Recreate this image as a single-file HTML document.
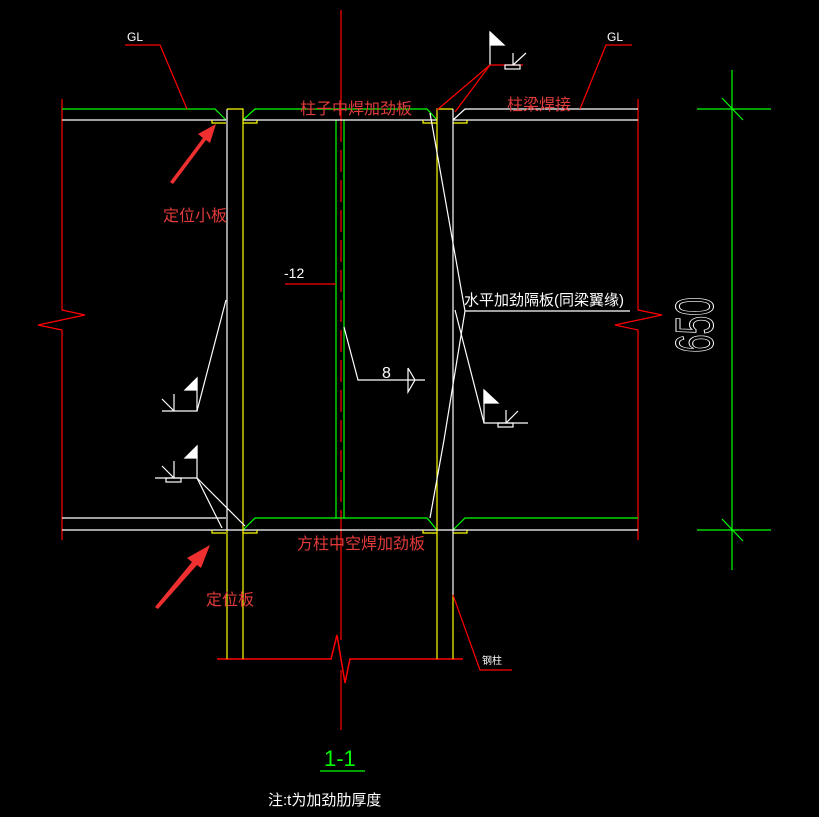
<!DOCTYPE html>
<html><head><meta charset="utf-8"><style>
html,body{margin:0;padding:0;background:#000;}
svg{display:block;}
text{font-family:"Liberation Sans","Noto Sans CJK SC",sans-serif;}
</style></head><body>
<svg width="819" height="817" viewBox="0 0 819 817" xmlns="http://www.w3.org/2000/svg">
<rect width="819" height="817" fill="#000"/>
<g fill="none" stroke-width="1.2">
<polyline stroke="#f00" points="62,99 62,310 85,315 38,325 62,330 62,540"/>
<polyline stroke="#f00" points="638,99 638,310 662,315 615,325 638,330 638,540"/>
<line stroke="#f00" x1="341" y1="10" x2="341" y2="120"/>
<line stroke="#f00" x1="341" y1="120" x2="341" y2="520" stroke-dasharray="22,8"/>
<line stroke="#f00" x1="341" y1="520" x2="341" y2="640"/>
<line stroke="#f00" x1="341" y1="670" x2="341" y2="730"/>
<polyline stroke="#f00" stroke-width="1.5" points="217,659 331,659 337,635 345,683 350,659 463,659"/>
<line stroke="#0f0" x1="336" y1="120" x2="336" y2="518"/>
<line stroke="#0f0" x1="344" y1="120" x2="344" y2="518"/>
<polyline stroke="#0f0" points="62,109 215,109 226,120"/>
<line stroke="#fff" x1="62" y1="120" x2="226" y2="120"/>
<polyline stroke="#0f0" points="243,120 255,109 427,109 437,120"/>
<line stroke="#fff" x1="243" y1="120" x2="437" y2="120"/>
<polyline stroke="#fff" points="453,120 465,109 638,109"/>
<line stroke="#fff" x1="453" y1="120" x2="638" y2="120"/>
<line stroke="#fff" x1="62" y1="518" x2="226" y2="518"/>
<polyline stroke="#0f0" points="243,530 255,518 427,518 437,530"/>
<polyline stroke="#0f0" points="453,530 465,518 638,518"/>
<line stroke="#fff" x1="62" y1="530" x2="638" y2="530"/>
<g stroke="#ff0">
<polyline points="212,120 212,123 226,123"/><polyline points="243,123 257,123 257,120"/>
<polyline points="423,120 423,123 437,123"/><polyline points="453,123 467,123 467,120"/>
<polyline points="212,530 212,533 226,533"/><polyline points="243,533 257,533 257,530"/>
<polyline points="423,530 423,533 437,533"/><polyline points="453,533 467,533 467,530"/>
</g>
<line stroke="#fff" x1="227" y1="109" x2="227" y2="530"/>
<line stroke="#ff0" x1="227" y1="530" x2="227" y2="659"/>
<polyline stroke="#ff0" points="227,109 243,109 243,659"/>
<polyline stroke="#ff0" points="437,659 437,109 453,109"/>
<line stroke="#fff" x1="453" y1="109" x2="453" y2="595"/>
<line stroke="#ff0" x1="453" y1="595" x2="453" y2="659"/>
<polyline stroke="#f00" points="125,45 160,45 187,109"/>
<polyline stroke="#f00" points="632,45 606,45 580,109"/>
<line stroke="#fff" x1="490" y1="32" x2="490" y2="65"/>
<polygon fill="#fff" stroke="#fff" points="490,32 504,45 490,45"/>
<line stroke="#f00" x1="490" y1="65" x2="523" y2="65"/>
<rect stroke="#fff" x="505" y="65" width="15" height="4"/>
<line stroke="#fff" x1="513" y1="53" x2="513" y2="65"/><line stroke="#fff" x1="513" y1="65" x2="526" y2="53"/>
<line stroke="#f00" x1="490" y1="65" x2="437" y2="110"/>
<line stroke="#f00" x1="490" y1="65" x2="455" y2="112"/>
<polyline stroke="#fff" points="430,113 465,311 444,440 430,518"/>
<line stroke="#fff" x1="465" y1="311" x2="630" y2="311"/>
<polyline stroke="#fff" points="455,310 484,423 528,423"/>
<line stroke="#fff" x1="484" y1="390" x2="484" y2="423"/>
<polygon fill="#fff" stroke="#fff" points="484,390 498,403 484,403"/>
<rect stroke="#fff" x="498" y="423" width="15" height="4"/>
<line stroke="#fff" x1="506" y1="410" x2="506" y2="423"/><line stroke="#fff" x1="506" y1="423" x2="518" y2="411"/>
<polyline stroke="#fff" points="226,300 197,411 162,411"/>
<line stroke="#fff" x1="197" y1="378" x2="197" y2="411"/>
<polygon fill="#fff" stroke="#fff" points="197,378 185,390 197,390"/>
<line stroke="#fff" x1="174" y1="394" x2="174" y2="411"/><line stroke="#fff" x1="174" y1="411" x2="162" y2="399"/>
<line stroke="#fff" x1="197" y1="446" x2="197" y2="478"/>
<polygon fill="#fff" stroke="#fff" points="197,446 185,458 197,458"/>
<line stroke="#fff" x1="155" y1="478" x2="197" y2="478"/>
<rect stroke="#fff" x="166" y="478" width="15" height="4"/>
<line stroke="#fff" x1="174" y1="461" x2="174" y2="478"/><line stroke="#fff" x1="174" y1="478" x2="162" y2="466"/>
<line stroke="#fff" x1="197" y1="478" x2="222" y2="528"/>
<line stroke="#fff" x1="197" y1="478" x2="245" y2="526"/>
<polyline stroke="#fff" points="344,327 358,380 425,380"/>
<polyline stroke="#fff" points="408,368 415,380 408,392 408,368"/>
<line stroke="#f00" x1="285" y1="284" x2="336" y2="284"/>
<polyline stroke="#f00" points="453,595 480,670 512,670"/>
<line stroke="#0f0" x1="732" y1="70" x2="732" y2="570"/>
<line stroke="#0f0" x1="697" y1="109" x2="771" y2="109"/>
<line stroke="#0f0" x1="697" y1="530" x2="771" y2="530"/>
<line stroke="#0f0" x1="722" y1="98" x2="743" y2="120"/>
<line stroke="#0f0" x1="722" y1="519" x2="743" y2="541"/>
<line stroke="#0f0" x1="320" y1="771" x2="365" y2="771"/>
</g>
<polygon fill="#f03030" points="170,182 203,138 198,134 216,124 210,143 206,140 173,184"/>
<polygon fill="#f03030" points="155,607 192,562 187,558 210,545 201,568 197,565 158,609"/>
<g font-size="12" fill="#fff">
<text x="127" y="41">GL</text>
<text x="607" y="41">GL</text>
<text x="284" y="278" font-size="14">-12</text>
<text x="382" y="378" font-size="16">8</text>
<text x="464" y="305" font-size="15">水平加劲隔板(同梁翼缘)</text>
<text x="482" y="664" font-size="10">钢柱</text>
<text x="268" y="805" font-size="15">注:t为加劲肋厚度</text>
</g>
<text x="324" y="766" font-size="22" fill="#0f0">1-1</text>
<text transform="translate(713,353) rotate(-90) scale(0.62,1)" font-size="54" fill="none" stroke="#fff" stroke-width="1">650</text>
<g font-size="16" fill="#e03a3a">
<text x="300" y="114">柱子中焊加劲板</text>
<text x="507" y="110">柱梁焊接</text>
<text x="163" y="221">定位小板</text>
<text x="297" y="549">方柱中空焊加劲板</text>
<text x="206" y="605">定位板</text>
</g>
</svg>
</body></html>
